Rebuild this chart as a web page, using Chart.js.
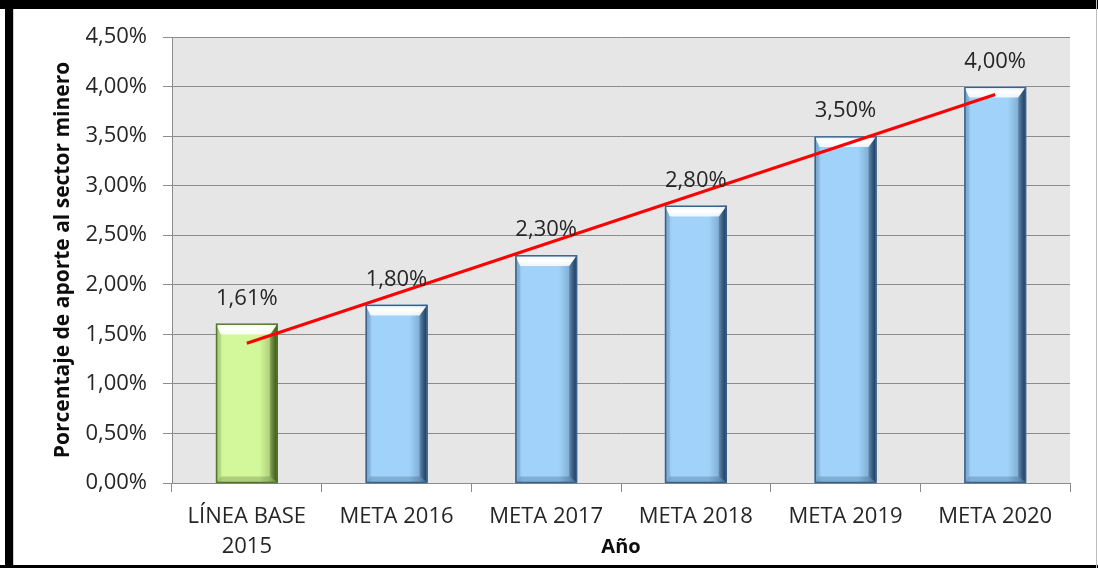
<!DOCTYPE html>
<html>
<head>
<meta charset="utf-8">
<script src="https://cdn.jsdelivr.net/npm/chart.js@4"></script>
<style>
  html, body { margin: 0; padding: 0; background: #ffffff; }
  #wrap { position: relative; width: 1098px; height: 568px; overflow: hidden; background: #fff; }
  #c { position: absolute; left: 0; top: 0; }
  .b { position: absolute; }
</style>
</head>
<body>
<div id="wrap">
  <canvas id="c" width="1098" height="568"></canvas>
  <div class="b" style="left:0;top:0;width:1098px;height:9px;background:#000;"></div>
  <div class="b" style="left:5px;top:0;width:8px;height:568px;background:#000;"></div>
  <div class="b" style="left:0;top:565px;width:1098px;height:3px;background:#000;"></div>
  <div class="b" style="left:1096px;top:0;width:1px;height:568px;background:#bdbdbd;"></div>
  <div class="b" style="left:13px;top:9px;width:1px;height:556px;background:#d0d0d0;"></div>
</div>
<script>
// ---- data ----
const categories = [['LÍNEA BASE', '2015'], 'META 2016', 'META 2017', 'META 2018', 'META 2019', 'META 2020'];
const values = [1.61, 1.80, 2.30, 2.80, 3.50, 4.00];
const trendValues = [1.41, null, null, null, null, 3.92];
const yTickLabels = ['0,00%', '0,50%', '1,00%', '1,50%', '2,00%', '2,50%', '3,00%', '3,50%', '4,00%', '4,50%'];
const yTitle = 'Porcentaje de aporte al sector minero';
const xTitle = 'Año';

const fmt = v => v.toFixed(2).replace('.', ',') + '%';

const FONT = '"Open Sans", "DejaVu Sans", sans-serif';
const TEXT = '#262626';

const barFill = values.map((v, i) => i === 0 ? '#D3F79B' : '#A1D3FA');
const barEdge = values.map((v, i) => i === 0 ? '#55762E' : '#3A6188');
const barShade = values.map((v, i) => i === 0 ? 'rgba(45,70,10,' : 'rgba(15,45,80,');

const plotBg = {
  id: 'plotBg',
  beforeDraw(chart) {
    const {ctx, chartArea: a} = chart;
    ctx.save();
    ctx.fillStyle = '#E6E6E6';
    ctx.fillRect(a.left, a.top, a.right - a.left, a.bottom - a.top);
    ctx.restore();
  }
};

const bevel = {
  id: 'bevel',
  afterDatasetDraw(chart, args) {
    if (args.index !== 0) return;
    const ctx = chart.ctx;
    const meta = chart.getDatasetMeta(0);
    meta.data.forEach((el, i) => {
      const p = el.getProps(['x', 'y', 'base', 'width'], true);
      const L = p.x - p.width / 2, R = p.x + p.width / 2, T = p.y, B = p.base;
      const s = 11;
      ctx.save();
      let g = ctx.createLinearGradient(L, 0, R, 0);
      g.addColorStop(0, barShade[i] + '0.18)');
      g.addColorStop(0.12, barShade[i] + '0.0)');
      g.addColorStop(0.7, barShade[i] + '0.0)');
      g.addColorStop(0.86, barShade[i] + '0.2)');
      g.addColorStop(1, barShade[i] + '0.6)');
      ctx.fillStyle = g;
      ctx.fillRect(L, T, R - L, B - T);
      // left bevel
      ctx.beginPath();
      ctx.moveTo(L, T); ctx.lineTo(L + 5, T + s); ctx.lineTo(L + 5, B - 6); ctx.lineTo(L, B); ctx.closePath();
      ctx.fillStyle = barShade[i] + '0.12)';
      ctx.fill();
      // right bevel
      ctx.beginPath();
      ctx.moveTo(R, T); ctx.lineTo(R, B); ctx.lineTo(R - 8, B - 6); ctx.lineTo(R - 8, T + s); ctx.closePath();
      g = ctx.createLinearGradient(R - 8, 0, R, 0);
      g.addColorStop(0, barShade[i] + '0.25)');
      g.addColorStop(1, barShade[i] + '0.8)');
      ctx.fillStyle = g;
      ctx.fill();
      // bottom bevel
      ctx.beginPath();
      ctx.moveTo(L, B); ctx.lineTo(R, B); ctx.lineTo(R - 8, B - 6); ctx.lineTo(L + 5, B - 6); ctx.closePath();
      ctx.fillStyle = barShade[i] + '0.22)';
      ctx.fill();
      // top highlight
      ctx.beginPath();
      ctx.moveTo(L, T); ctx.lineTo(R, T); ctx.lineTo(R - 8, T + s); ctx.lineTo(L + 5, T + s); ctx.closePath();
      g = ctx.createLinearGradient(0, T, 0, T + s);
      g.addColorStop(0, 'rgba(255,255,255,0.75)');
      g.addColorStop(0.5, 'rgba(255,255,255,1)');
      g.addColorStop(1, 'rgba(255,255,255,0.8)');
      ctx.fillStyle = g;
      ctx.fill();
      // border
      ctx.strokeStyle = barEdge[i];
      ctx.lineWidth = 1.5;
      ctx.strokeRect(L + 0.75, T + 0.75, R - L - 1.5, B - T - 0.75);
      ctx.restore();
    });
  }
};

const dataLabels = {
  id: 'dataLabels',
  afterDatasetsDraw(chart) {
    const ctx = chart.ctx;
    const meta = chart.getDatasetMeta(0);
    ctx.save();
    ctx.font = '22px ' + FONT;
    ctx.fillStyle = TEXT;
    ctx.textAlign = 'center';
    ctx.textBaseline = 'middle';
    meta.data.forEach((el, i) => {
      const p = el.getProps(['x', 'y'], true);
      ctx.fillText(fmt(values[i]), p.x, p.y - 25);
    });
    ctx.restore();
  }
};

new Chart(document.getElementById('c'), {
  data: {
    labels: categories,
    datasets: [
      {
        type: 'bar',
        data: values,
        backgroundColor: barFill,
        borderWidth: 0,
        barPercentage: 0.414,
        categoryPercentage: 1,
        order: 2
      },
      {
        type: 'line',
        data: trendValues,
        spanGaps: true,
        borderColor: '#FF0000',
        borderWidth: 3,
        pointRadius: 0,
        fill: false,
        order: 1
      }
    ]
  },
  options: {
    responsive: false,
    animation: false,
    devicePixelRatio: 1,
    layout: { padding: { left: 0, right: 28, top: 37, bottom: 0 } },
    plugins: { legend: { display: false }, tooltip: { enabled: false } },
    scales: {
      x: {
        grid: { display: true, drawOnChartArea: false, drawTicks: true, tickLength: 9, color: '#8C8C8C', offset: true },
        border: { display: true, color: '#8C8C8C' },
        ticks: { color: TEXT, font: { family: FONT, size: 22, lineHeight: 1.36 }, padding: 10, maxRotation: 0, autoSkip: false },
        title: { display: true, text: xTitle, color: '#0D0D0D', font: { family: FONT, size: 20, weight: 'bold', lineHeight: 1.2 }, padding: { top: 0, bottom: 9 } },
        afterFit(scale) { scale.height = 85; }
      },
      y: {
        min: 0, max: 4.5,
        ticks: {
          stepSize: 0.5,
          color: TEXT,
          font: { family: FONT, size: 22 },
          padding: 16,
          callback: (v, i) => yTickLabels[i]
        },
        grid: { color: '#8C8C8C', tickLength: 9, drawTicks: true },
        border: { display: true, color: '#8C8C8C' },
        title: { display: true, text: yTitle, color: '#0D0D0D', font: { family: FONT, size: 21, weight: 'bold', lineHeight: 1.2 }, padding: { top: 50, bottom: 0 } },
        afterFit(scale) { scale.width = 172; }
      }
    }
  },
  plugins: [plotBg, bevel, dataLabels]
});
</script>
</body>
</html>
